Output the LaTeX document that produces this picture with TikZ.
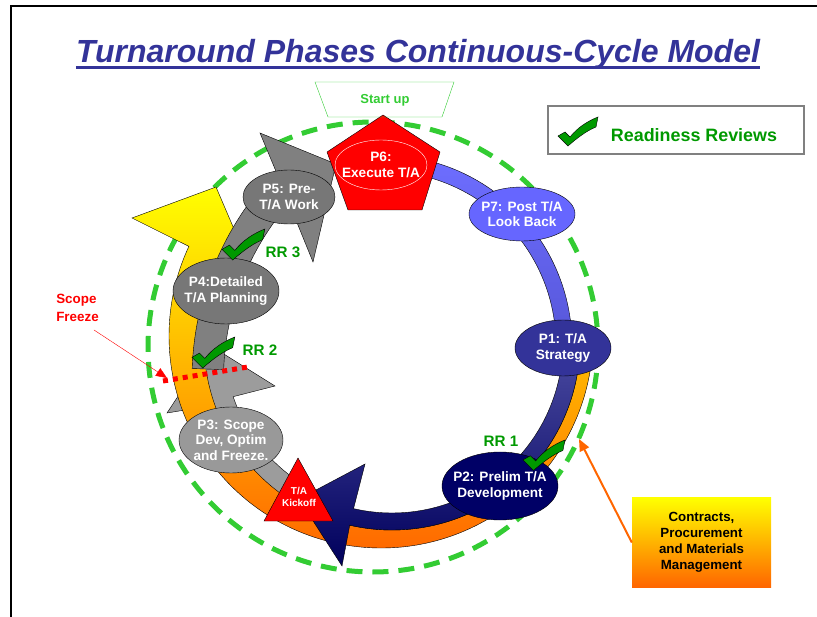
\documentclass[tikz,border=0pt]{standalone}
\usepackage{fontspec}
\setmainfont{Liberation Sans}
\usetikzlibrary{shapes.geometric,arrows.meta,positioning}

\definecolor{titleblue}{HTML}{333399}
\definecolor{rrgreen}{HTML}{009900}
\definecolor{ringgreen}{HTML}{33CC33}
\definecolor{pone}{HTML}{333399}
\definecolor{ptwo}{HTML}{000066}
\definecolor{pthree}{HTML}{999999}
\definecolor{pfour}{HTML}{777777}
\definecolor{pseven}{HTML}{6666FF}
\definecolor{kickred}{HTML}{FF0000}
\definecolor{cpmorange}{HTML}{FF6600}
\definecolor{cpmgold}{HTML}{FFC400}
\definecolor{graya}{HTML}{9C9C9C}
\definecolor{grayb}{HTML}{808080}

\begin{document}
\begin{tikzpicture}[x=1pt, y=-1pt]
    \tikzset{
        phase/.style = {ellipse, draw=black, thin, inner sep=-10pt, align=center, text=white, font=\fontsize{13.6}{15.5}\selectfont\bfseries},
        band/.style = {draw=black, thin},
        rr/.style = {text=rrgreen, font=\fontsize{15.2}{18}\selectfont\bfseries},
        rrtick/.pic = {
            \filldraw[fill=rrgreen, draw=black, thin] (0,19) -- (7,15) -- (12,20) .. controls (20,10) and (30,4) .. (40,0) -- (38,10) .. controls (28,14) and (18,22) .. (10,29) -- cycle;
        }
    }

    \useasboundingbox (0,0) rectangle (817,617);
    \draw[line width=2.5] (11,617) -- (11,6) -- (817,6);

    \node[anchor=base, inner sep=0, text=titleblue, font=\fontsize{32}{38}\selectfont\bfseries\itshape](title) at (418,63){Turnaround Phases Continuous-Cycle Model};
    \draw[titleblue, line width=3] ([yshift=-5]title.base west) -- ([yshift=-5]title.base east);

    \draw[ringgreen, line width=5, dash pattern=on 16pt off 10pt] (373,347) circle[radius=225];

    \path[band, fill=graya] ([shift={(392,342)}]120:200) arc[start angle=120, end angle=161, radius=200]
        -- (167,413) -- (211,346) -- (275,386)
        -- ([shift={(392,342)}]161:168) arc[start angle=161, end angle=120, radius=168] -- cycle;

    \path[band, top color=yellow, middle color=cpmgold, bottom color=cpmorange] ([shift={(381,336)}]5:212) arc[start angle=5, end angle=205, radius=212]
        -- (132,218) -- (216,187) -- (255,278)
        -- ([shift={(392,342)}]205.2:188) arc[start angle=205.2, end angle=5, radius=188] -- cycle;

    \path[band, fill=grayb] ([shift={(492,379)}]182:300) arc[start angle=182, end angle=223.9, radius=300]
        -- (260,133) -- (336,164) -- (313,262)
        -- ([shift={(492,379)}]220.9:268.5) arc[start angle=220.9, end angle=182, radius=268.5] -- cycle;

    \path[band, top color=pseven!95!white, bottom color=pseven!85!black] ([shift={(382,345)}]-80:190) arc[start angle=-80, end angle=0, radius=190]
        -- ([shift={(382,345)}]0:174) arc[start angle=0, end angle=-80, radius=174] -- cycle;

    \path[band, top color=pone!85!white, bottom color=ptwo!90!black] ([shift={(392,342)}]-5:188) arc[start angle=-5, end angle=103, radius=188]
        -- (342,566) -- (299,499) -- (365,464)
        -- ([shift={(392,342)}]103:171) arc[start angle=103, end angle=-5, radius=171] -- cycle;

    \node[phase, fill=pseven, minimum width=106, minimum height=54](p7) at (522,214){P7: Post T/A\\Look Back};
    \node[phase, fill=pone, minimum width=96, minimum height=56](p1) at (563,348){P1: T/A\\Strategy};
    \node[phase, fill=ptwo, minimum width=116, minimum height=68](p2) at (500,486){P2: Prelim T/A\\Development};
    \node[phase, fill=pthree, minimum width=104, minimum height=66](p3) at (231,440){P3: Scope\\Dev, Optim\\and Freeze.};
    \node[phase, fill=pfour, minimum width=106, minimum height=66](p4) at (226,291){P4:Detailed\\T/A Planning};
    \node[phase, fill=pfour, minimum width=92, minimum height=54](p5) at (289,197){P5: Pre-\\T/A Work};

    \filldraw[fill=kickred, draw=black, thin] (383,115) -- (440,152) -- (422,210) -- (348,210) -- (327,152) -- cycle;
    \node[phase, draw=white, minimum width=92, minimum height=50](p6) at (381,165){P6:\\Execute T/A};

    \filldraw[fill=kickred, draw=black, thin] (298,458) -- (333,521) -- (264,521) -- cycle;
    \node[align=center, text=white, inner sep=0, font=\fontsize{10}{12}\selectfont\bfseries](kickoff) at (299,497){T/A\\Kickoff};

    \pic[scale=1.07] at (222,229) {rrtick};
    \pic[scale=1.07] at (192,337) {rrtick};
    \pic[scale=1.05] at (523,440) {rrtick};
    \node[rr](rr3) at (283,252){RR 3};
    \node[rr](rr2) at (260,350){RR 2};
    \node[rr](rr1) at (501,441){RR 1};

    \coordinate (fz1) at (163,381);
    \coordinate (fz2) at (248,367);
    \draw[red, line width=5, dash pattern=on 5pt off 5pt] (fz1) -- (fz2);
    \node[align=left, inner sep=0, text=red, font=\fontsize{13.4}{18}\selectfont\bfseries](scope) at (77.5,308){Scope\\Freeze};
    \coordinate (fztip) at (167,378);
    \draw[red, thin, -{Triangle[length=11pt, width=9pt]}] ([shift={(-5,8)}]scope.south east) -- (fztip);

    \draw[ringgreen, thin] (315,82) -- (454,82) -- (442,117) -- (328,117) -- cycle;
    \node[text=ringgreen, font=\fontsize{13}{15}\selectfont\bfseries](startup) at (385,100){Start up};

    \node[draw=gray, line width=1.5, minimum width=256, minimum height=48, inner sep=0](legend) at (676,130){};
    \pic at (558,117) {rrtick};
    \node[text=rrgreen, font=\fontsize{17.9}{20}\selectfont\bfseries](rrkey) at (694,135){Readiness Reviews};

    \node[top color=yellow, bottom color=cpmorange, minimum width=139, minimum height=89, inner sep=0, align=center, font=\fontsize{13.3}{16}\selectfont\bfseries](cpm) at (701.5,542.5){Contracts,\\Procurement\\and Materials\\Management};
    \coordinate (cpmtip) at (579,439);
    \draw[cpmorange, line width=2, -{Triangle[length=12pt, width=10pt]}] (cpm.west) -- (cpmtip);

\end{tikzpicture}
\end{document}
